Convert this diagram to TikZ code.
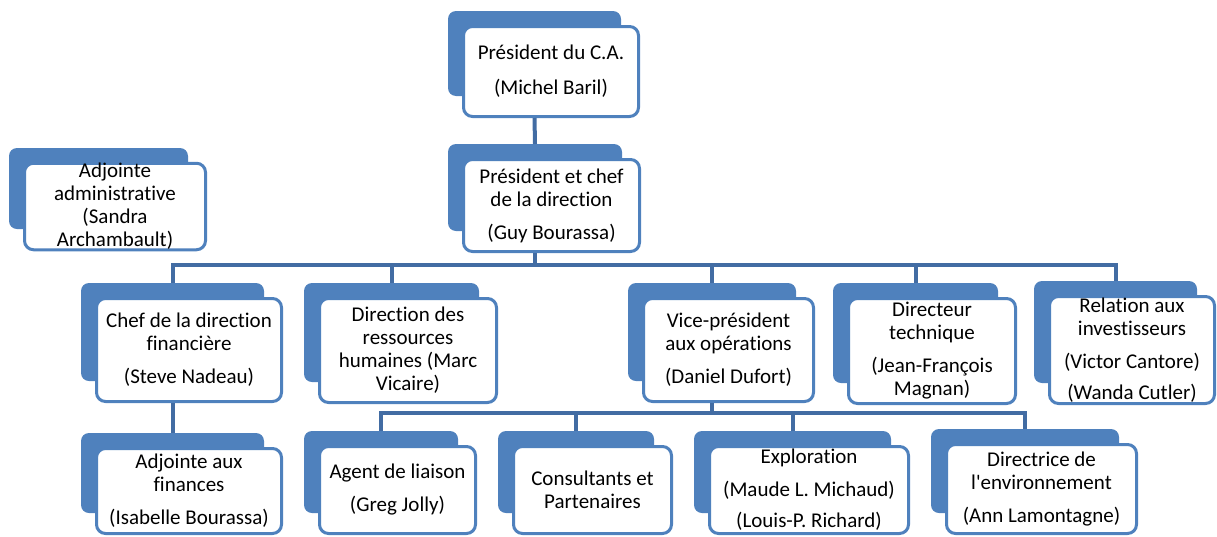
\documentclass[tikz,border=0pt]{standalone}
\usepackage{fontspec}
\setmainfont{Carlito}[Ligatures={TeXOff,NoCommon,NoContextual},Contextuals=NoAlternate]
\usepackage{xcolor}
\usepackage{tikz}
\usetikzlibrary{backgrounds}
\definecolor{boxblue}{RGB}{79,129,189}
\definecolor{linkblue}{RGB}{66,108,163}
\tikzstyle{front}=[draw=boxblue,line width=3pt,fill=white,rounded corners=9pt,inner sep=0pt,align=center,font=\fontsize{21}{23}\selectfont]
\tikzstyle{back}=[fill=boxblue,rounded corners=8pt,inner sep=0pt,outer sep=0pt]
\tikzstyle{link}=[draw=linkblue,line width=4pt]
% unit = blue tab behind a white box: name, left, top, right, bottom, text
\newcommand\orgunit[6]{%
  \node[front,minimum width={(#4-#2-3)*1pt},minimum height={(#5-#3-3)*1pt}] (#1-f) at ({(#2+#4)/2},{(#3+#5)/2}) {#6};
  \begin{pgfonlayer}{background}
    \node[back,minimum width={(#4-#2-5)*1pt},minimum height={(#5-#3-8)*1pt}] (#1) at ({(#2+#4)/2-16.5},{(#3+#5)/2-18}) {};
  \end{pgfonlayer}}
\begin{document}
\begin{tikzpicture}[x=1pt,y=-1pt]
	\useasboundingbox (0,0) rectangle (1217,536);
	\orgunit{ca}{462}{25}{640}{118}{Président du C.A.\\[12pt](Michel Baril)}
	\orgunit{pdg}{462}{158}{641}{253}{Président et chef\\de la direction\\[10pt](Guy Bourassa)}
	\orgunit{adj}{23}{162}{207}{251}{Adjointe\\administrative\\(Sandra\\Archambault)}
	\orgunit{cfo}{95}{297}{283}{403}{Chef de la direction\\financière\\[10pt](Steve Nadeau)}
	\orgunit{rh}{318}{297}{498}{404}{Direction des\\ressources\\humaines (Marc\\Vicaire)}
	\orgunit{vp}{642}{297}{815}{403}{Vice-président\\aux opérations\\[10pt](Daniel Dufort)}
	\orgunit{dt}{847}{297}{1017}{405}{Directeur\\technique\\[10pt](Jean-François\\Magnan)}
	\orgunit{rel}{1048}{295}{1216}{405}{Relation aux\\investisseurs\\[10pt](Victor Cantore)\\[8pt](Wanda Cutler)}
	\orgunit{fin}{95}{447}{283}{535}{Adjointe aux\\finances\\[10pt](Isabelle Bourassa)}
	\orgunit{ag}{318}{445}{477}{535}{Agent de liaison\\[10pt](Greg Jolly)}
	\orgunit{co}{512}{445}{673}{535}{Consultants et\\Partenaires}
	\orgunit{ex}{708}{445}{910}{535}{Exploration\\[10pt](Maude L. Michaud)\\[8pt](Louis-P. Richard)}
	\orgunit{env}{945}{443}{1138}{535}{Directrice de\\l'environnement\\[10pt](Ann Lamontagne)}
	\draw[link] (ca-f.south -| ca) -- (pdg.north);
	\draw[link] (pdg-f.south -| pdg) -- ++(0,12) coordinate (top-bar);
	\foreach \n in {cfo,rh,vp,dt,rel} \draw[link] (top-bar) -| (\n.north);
	\draw[link] (cfo-f.south -| cfo) -- (fin.north);
	\draw[link] (vp-f.south -| vp) -- ++(0,10) coordinate (ops-bar);
	\foreach \n in {ag,co,ex,env} \draw[link] (ops-bar) -| (\n.north);
\end{tikzpicture}
\end{document}
